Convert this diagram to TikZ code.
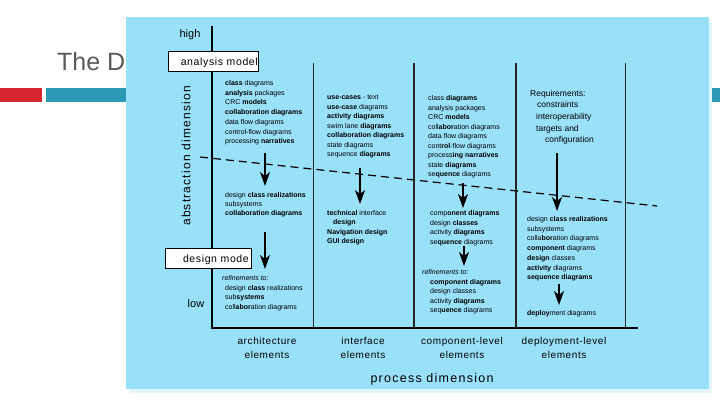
\documentclass[tikz,border=0pt]{standalone}
\usepackage{fontspec}
\setmainfont{Liberation Sans}
\newfontfamily\spacedfont[LetterSpace=6]{Liberation Sans}
\newfontfamily\widefont[LetterSpace=10]{Liberation Sans}
\usetikzlibrary{arrows.meta, positioning}

\definecolor{panelblue}{RGB}{153,224,249}
\definecolor{panelshade}{RGB}{226,246,250}
\definecolor{barred}{RGB}{216,38,46}
\definecolor{barteal}{RGB}{44,154,182}
\definecolor{titlegrey}{RGB}{90,90,90}

\tikzset{
  modelbox/.style={draw=black, fill=white, line width=0.9pt, minimum height=20pt,
    inner xsep=2pt, inner ysep=0pt, font=\spacedfont\fontsize{10.5}{12}\selectfont},
  downarrow/.style={-{Stealth[length=14pt,width=10pt,inset=4pt]}, line width=1.3pt},
  elemlabel/.style={font=\spacedfont\fontsize{10}{14}\selectfont, align=center, inner sep=0pt, anchor=base},
  axislabel/.style={font=\fontsize{11}{13}\selectfont, inner sep=0pt, anchor=base},
}

\begin{document}
\begin{tikzpicture}[x=1pt,y=-1pt]
\useasboundingbox (0,0) rectangle (720,405);
\fill [white] (0,0) rectangle (720,405);
\node [font=\fontsize{25}{30}\selectfont, text=titlegrey, inner sep=0pt, anchor=base west] (title) at (57,70) {The D};
\fill [barred]  (0,88)  rectangle (42,102);
\fill [barteal] (46,88) rectangle (720,102);
\fill [panelshade] (130,22) rectangle (712,393);
\fill [panelblue]  (126,17) rectangle (709,389);

\draw [line width=2pt] (212,26) -- (212,328) -- (638,328);
\foreach \x/\w in {313/0.6, 414/1.1, 516/1.1, 625/0.6} {
  \draw [line width=\w pt, black!85] (\x,63) -- (\x,328);
}
\coordinate (dashL) at (200,157);
\coordinate (dashR) at (657,206);
\draw [line width=1.2pt, dash pattern=on 8pt off 5pt] (dashL) -- (dashR);

\node [axislabel] (high) at (190,37) {high};
\node [axislabel] (low)  at (196,307) {low};
\node [rotate=90, font=\widefont\fontsize{12}{14}\selectfont, inner sep=0pt] (absdim) at (186,156) {abstraction dimension};
\node [modelbox, minimum width=90pt, inner xsep=0pt] (anmodel) at (213,61) {};
\node [font=\spacedfont\fontsize{10.5}{12}\selectfont, inner sep=0pt, anchor=base east] (anlabel) at (258,65) {analysis model};
\node [modelbox, minimum width=86pt, inner xsep=0pt] (dsmodel) at (208,258) {};
\node [font=\spacedfont\fontsize{10.5}{12}\selectfont, inner sep=0pt, anchor=base east] (dslabel) at (249,262) {design mode};

\begin{scope}[every node/.style={font=\fontsize{7}{9.7}\selectfont, inner sep=0pt, anchor=base west, align=left}]
\node (archTop) at (225,143.7) {\textbf{class} diagrams\\\textbf{analysis} packages\\CRC \textbf{models}\\\textbf{collaboration diagrams}\\data flow diagrams\\control-flow diagrams\\processing \textbf{narratives}};
\node [font=\fontsize{7}{9}\selectfont] (archMid) at (225,215.5) {design \textbf{class realizations}\\subsystems\\\textbf{collaboration diagrams}};
\node (archLow) at (222,309.6) {\textit{refinements to:}\\\hspace*{3pt}design \textbf{class} realizations\\\hspace*{3pt}sub\textbf{systems}\\\hspace*{3pt}coll\textbf{abor}ation diagrams};
\node [font=\fontsize{7}{9.5}\selectfont] (intfTop) at (327,156.5) {\textbf{use-cases} - text\\\textbf{use-case} diagrams\\\textbf{activity diagrams}\\swim lane \textbf{diagrams}\\\textbf{collaboration diagrams}\\state diagrams\\sequence \textbf{diagrams}};
\node [font=\fontsize{7}{9.3}\selectfont] (intfMid) at (327,243.4) {\textbf{technical} interface\\\hspace*{6pt}\textbf{design}\\\textbf{Navigation design}\\\textbf{GUI design}};
\node [font=\fontsize{7}{9.5}\selectfont] (compTop) at (428,176.5) {class \textbf{diagrams}\\analysis packages\\CRC \textbf{models}\\coll\textbf{abor}ation diagrams\\data flow diagrams\\cont\textbf{rol}-flow diagrams\\process\textbf{ing narratives}\\state \textbf{diagrams}\\se\textbf{quence} diagrams};
\node (compMid) at (430,244.6) {comp\textbf{onent diagrams}\\design \textbf{classes}\\activity \textbf{diagrams}\\se\textbf{quence} diagrams};
\node [font=\fontsize{7}{9.5}\selectfont] (compLow) at (422,312.5) {\textit{refinements to:}\\\hspace*{8pt}\textbf{component diagrams}\\\hspace*{8pt}design classes\\\hspace*{8pt}activity \textbf{diagrams}\\\hspace*{8pt}seq\textbf{uence} diagrams};
\node [font=\fontsize{8.5}{11.7}\selectfont] (deplTop) at (530,142.8) {Requirements:\\\hspace*{7pt}constraints\\\hspace*{6pt}interoperability\\\hspace*{6pt}targets and\\\hspace*{15pt}configuration};
\node (deplMid) at (527,279.7) {design \textbf{class realizations}\\subsystems\\colla\textbf{bor}ation diagrams\\\textbf{component} diagrams\\\textbf{design} classes\\\textbf{activity} diagrams\\\textbf{sequence} \textbf{diagrams}};
\node (deplLow) at (527,315.5) {\textbf{deploy}ment diagrams};
\end{scope}

\foreach \i/\x/\a/\b in {1/265/153/186, 2/265/232/269, 3/360/168/204, 4/463/183/208, 5/464/246/266, 6/557/153/211, 7/559/284/305} {
  \coordinate (arS\i) at (\x,\a);
  \coordinate (arE\i) at (\x,\b);
  \draw [downarrow] (arS\i) -- (arE\i);
}

\node [elemlabel] (archElem) at (267,358) {architecture\\elements};
\node [elemlabel] (intfElem) at (363,358) {interface\\elements};
\node [elemlabel] (compElem) at (462,358) {component-level\\elements};
\node [elemlabel] (deplElem) at (564,358) {deployment-level\\elements};
\node [font=\widefont\fontsize{12.5}{15}\selectfont, inner sep=0pt, anchor=base] (procdim) at (432,382) {process dimension};
\end{tikzpicture}
\end{document}
